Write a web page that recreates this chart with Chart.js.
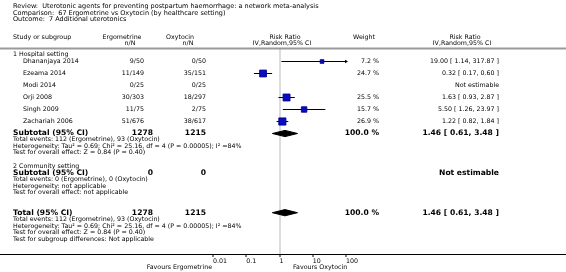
<!DOCTYPE html>
<html>
<head>
<meta charset="utf-8">
<script src="https://cdn.jsdelivr.net/npm/chart.js@4/dist/chart.umd.min.js"></script>
<style>
  html, body { margin: 0; padding: 0; background: #fff; }
  #wrap { position: relative; width: 566px; height: 272px; }
</style>
</head>
<body>
<div id="wrap"><canvas id="forest"></canvas></div>
<script>
// study level data
const studies = ["Dhananjaya 2014", "Ezeama 2014", "Modi 2014", "Orji 2008", "Singh 2009", "Zachariah 2006"]
const ergoEvents = [9, 11, 0, 30, 11, 51]
const ergoTotals = [50, 149, 25, 303, 75, 676]
const oxyEvents = [0, 35, 0, 18, 2, 38]
const oxyTotals = [50, 151, 25, 297, 75, 617]
const weights = [7.2, 24.7, null, 25.5, 15.7, 26.9]
const riskRatio = [19.00, 0.32, null, 1.63, 5.50, 1.22]
const lowerCI = [1.14, 0.17, null, 0.93, 1.26, 0.82]
const upperCI = [317.87, 0.60, null, 2.87, 23.97, 1.84]

// pooled estimate (subtotal hospital setting == overall total)
const pooled = [1.46, 0.61, 3.48]

const axisTicks = [0.01, 0.1, 1, 10, 100]
const AXIS_MIN = 0.01
const AXIS_MAX = 100

const SUBTOTAL_ROW = 6
const TOTAL_ROW = 12.6
const DIAMOND_HALF = 0.26

const FONT = '"DejaVu Sans", Verdana, sans-serif'

const fmt = (v) => v.toFixed(2)
const sum = (arr) => arr.reduce((a, b) => a + b, 0)

// CI whiskers, one dataset per estimable study
const ciSets = []
studies.forEach((name, i) => {
  if (riskRatio[i] == null) return
  const over = upperCI[i] > AXIS_MAX
  ciSets.push({
    type: "scatter",
    label: name + " CI",
    data: [{ x: lowerCI[i], y: i }, { x: Math.min(upperCI[i], AXIS_MAX), y: i }],
    showLine: true,
    borderColor: "#000",
    borderWidth: 1,
    backgroundColor: "#000",
    pointStyle: "triangle",
    rotation: 90,
    pointRadius: over ? [0, 2] : 0,
    pointBorderWidth: 0,
    clip: false,
    order: 2
  })
})

const squareSet = {
  type: "scatter",
  label: "Studies",
  data: studies.map((n, i) => ({ x: riskRatio[i], y: i })).filter((p) => p.x != null),
  pointStyle: "rect",
  pointRadius: weights.filter((w) => w != null).map((w) => Math.sqrt(w) * 0.98),
  backgroundColor: "#0a0ac8",
  borderColor: "#00007a",
  borderWidth: 0.8,
  order: 0
}

const diamond = (row) => ({
  type: "scatter",
  label: "Pooled",
  data: [
    { x: pooled[1], y: row },
    { x: pooled[0], y: row - DIAMOND_HALF },
    { x: pooled[2], y: row },
    { x: pooled[0], y: row + DIAMOND_HALF },
    { x: pooled[1], y: row }
  ],
  showLine: true,
  fill: "shape",
  tension: 0,
  borderColor: "#000",
  borderWidth: 1,
  backgroundColor: "#000",
  pointRadius: 0,
  order: 1
})

function txt(ctx, s, x, y, align, bold, size) {
  ctx.font = (bold ? "bold " : "") + size + "px " + FONT
  ctx.textAlign = align
  ctx.fillText(s, x, y)
}

const tablePlugin = {
  id: "forestTable",
  afterDraw(chart) {
    const ctx = chart.ctx
    const yS = chart.scales.y
    const W = chart.width
    ctx.save()
    ctx.fillStyle = "#000"
    ctx.textBaseline = "middle"
    const S = 6.3, B = 7.6

    // title block
    txt(ctx, "Review:  Uterotonic agents for preventing postpartum haemorrhage: a network meta-analysis", 13, 6.5, "left", false, 6.5)
    txt(ctx, "Comparison:  67 Ergometrine vs Oxytocin (by healthcare setting)", 13, 13, "left", false, 6.5)
    txt(ctx, "Outcome:  7 Additional uterotonics", 13, 19.5, "left", false, 6.5)

    // column headers
    txt(ctx, "Study or subgroup", 13, 37.5, "left", false, S)
    txt(ctx, "Ergometrine", 122, 37.5, "center", false, S)
    txt(ctx, "n/N", 130, 43.5, "center", false, S)
    txt(ctx, "Oxytocin", 180, 37.5, "center", false, S)
    txt(ctx, "n/N", 188, 43.5, "center", false, S)
    txt(ctx, "Risk Ratio", 285, 37.5, "center", false, S)
    txt(ctx, "IV,Random,95% CI", 282, 43.5, "center", false, S)
    txt(ctx, "Weight", 364, 37.5, "center", false, S)
    txt(ctx, "Risk Ratio", 465, 37.5, "center", false, S)
    txt(ctx, "IV,Random,95% CI", 462, 43.5, "center", false, S)

    ctx.fillStyle = "#9a9a9a"
    ctx.fillRect(0, 47.5, W, 2)
    ctx.fillStyle = "#000"

    // hospital setting block
    txt(ctx, "1 Hospital setting", 13, 54, "left", false, S)
    studies.forEach((name, i) => {
      const y = yS.getPixelForValue(i)
      txt(ctx, name, 23, y, "left", false, S)
      txt(ctx, ergoEvents[i] + "/" + ergoTotals[i], 144, y, "right", false, S)
      txt(ctx, oxyEvents[i] + "/" + oxyTotals[i], 206, y, "right", false, S)
      if (riskRatio[i] == null) {
        txt(ctx, "Not estimable", 499, y, "right", false, S)
      } else {
        txt(ctx, weights[i].toFixed(1) + " %", 379, y, "right", false, S)
        txt(ctx, fmt(riskRatio[i]) + " [ " + fmt(lowerCI[i]) + ", " + fmt(upperCI[i]) + " ]", 499, y, "right", false, S)
      }
    })
    const pooledText = fmt(pooled[0]) + " [ " + fmt(pooled[1]) + ", " + fmt(pooled[2]) + " ]"
    const eventsLine = "Total events: " + sum(ergoEvents) + " (Ergometrine), " + sum(oxyEvents) + " (Oxytocin)"
    const hetLine = "Heterogeneity: Tau\u00b2 = 0.69; Chi\u00b2 = 25.16, df = 4 (P = 0.00005); I\u00b2 =84%"
    const effLine = "Test for overall effect: Z = 0.84 (P = 0.40)"

    let y = yS.getPixelForValue(SUBTOTAL_ROW)
    txt(ctx, "Subtotal (95% CI)", 13, y, "left", true, B)
    txt(ctx, String(sum(ergoTotals)), 153, y, "right", true, B)
    txt(ctx, String(sum(oxyTotals)), 206, y, "right", true, B)
    txt(ctx, "100.0 %", 379, y, "right", true, B)
    txt(ctx, pooledText, 499, y, "right", true, B)
    txt(ctx, eventsLine, 13, 139.8, "left", false, S)
    txt(ctx, hetLine, 13, 146.2, "left", false, S)
    txt(ctx, effLine, 13, 152.6, "left", false, S)

    // community setting block
    txt(ctx, "2 Community setting", 13, 166, "left", false, S)
    txt(ctx, "Subtotal (95% CI)", 13, 172.7, "left", true, B)
    txt(ctx, "0", 153, 172.7, "right", true, B)
    txt(ctx, "0", 206, 172.7, "right", true, B)
    txt(ctx, "Not estimable", 499, 172.7, "right", true, B)
    txt(ctx, "Total events: 0 (Ergometrine), 0 (Oxytocin)", 13, 179.4, "left", false, S)
    txt(ctx, "Heterogeneity: not applicable", 13, 186, "left", false, S)
    txt(ctx, "Test for overall effect: not applicable", 13, 192.7, "left", false, S)

    // overall total
    y = yS.getPixelForValue(TOTAL_ROW)
    txt(ctx, "Total (95% CI)", 13, y, "left", true, B)
    txt(ctx, String(sum(ergoTotals)), 153, y, "right", true, B)
    txt(ctx, String(sum(oxyTotals)), 206, y, "right", true, B)
    txt(ctx, "100.0 %", 379, y, "right", true, B)
    txt(ctx, pooledText, 499, y, "right", true, B)
    txt(ctx, eventsLine, 13, 219.2, "left", false, S)
    txt(ctx, hetLine, 13, 226, "left", false, S)
    txt(ctx, effLine, 13, 232.8, "left", false, S)
    txt(ctx, "Test for subgroup differences: Not applicable", 13, 239.5, "left", false, S)

    // full width axis rule and favours labels
    const axisY = chart.chartArea.bottom
    ctx.fillRect(0, axisY, W, 1)
    txt(ctx, "Favours Ergometrine", chart.chartArea.left - 1, 267.5, "right", false, S)
    txt(ctx, "Favours Oxytocin", 293, 267.5, "left", false, S)
    ctx.restore()
  }
}

new Chart(document.getElementById("forest"), {
  type: "scatter",
  data: { datasets: [...ciSets, squareSet, diamond(SUBTOTAL_ROW), diamond(TOTAL_ROW)] },
  options: {
    responsive: true,
    maintainAspectRatio: false,
    animation: false,
    events: [],
    layout: { padding: { left: 213, right: 220, top: 49, bottom: 0 } },
    plugins: { legend: { display: false }, tooltip: { enabled: false } },
    scales: {
      x: {
        type: "logarithmic",
        min: AXIS_MIN,
        max: AXIS_MAX,
        afterBuildTicks: (scale) => { scale.ticks = axisTicks.map((v) => ({ value: v })) },
        afterFit: (scale) => { scale.height = 18 },
        border: { display: true, color: "#000", width: 1 },
        grid: {
          color: (c) => (c.tick && c.tick.value === 1 ? "#dcdcdc" : "rgba(0,0,0,0)"),
          lineWidth: (c) => (c.tick && c.tick.value === 1 ? 2 : 0),
          tickColor: "#000",
          tickWidth: 1,
          tickLength: 3,
          drawTicks: true
        },
        ticks: {
          autoSkip: false,
          maxRotation: 0,
          align: "start",
          padding: 1,
          color: "#000",
          font: { family: FONT, size: 6.3 },
          callback: (v) => String(v)
        }
      },
      y: {
        type: "linear",
        display: false,
        reverse: true,
        // rows sit on half pixels so the 1px whiskers stay crisp
        min: -1.0417,
        max: 16.0417
      }
    }
  },
  plugins: [tablePlugin]
})
</script>
</body>
</html>
